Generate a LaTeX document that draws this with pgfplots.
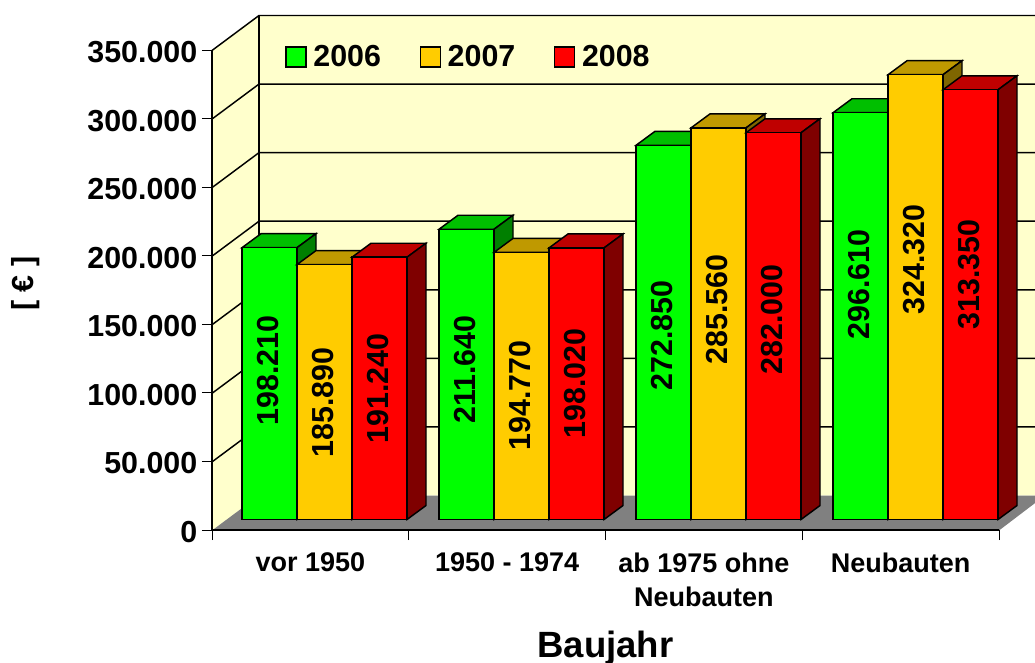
\documentclass[border=0pt]{standalone}
\usepackage{fontspec}
\setmainfont{Liberation Sans}
\usepackage{pgfplots}
\pgfplotsset{compat=1.18}
\definecolor{wall}{HTML}{FFFFCC}
\definecolor{floorgrey}{HTML}{808080}
\definecolor{gfront}{HTML}{00FF00}
\definecolor{gtop}{HTML}{00BF00}
\definecolor{gside}{HTML}{007F00}
\definecolor{yfront}{HTML}{FFCC00}
\definecolor{ytop}{HTML}{BF9900}
\definecolor{yside}{HTML}{7F6600}
\definecolor{rfront}{HTML}{FF0000}
\definecolor{rtop}{HTML}{BF0000}
\definecolor{rside}{HTML}{7F0000}
\newcommand{\bigbf}{\fontsize{22.8}{26}\selectfont\bfseries}
\tikzset{face/.style={draw=black,line width=1.1pt,line join=miter},
  grid line/.style={draw=black,line width=1.1pt},
  barlabel/.style={rotate=90,font=\bigbf,inner sep=0pt}}
% x = left edge in px, value, colour stem, label height, label text
\newcommand{\threedbar}[5]{%
  \edef\tmp{%
    \noexpand\addplot[face,fill=#3top] coordinates {(#1,#2) (\the\numexpr#1+19\relax,\the\numexpr#2+10200\relax) (\the\numexpr#1+74\relax,\the\numexpr#2+10200\relax) (\the\numexpr#1+55\relax,#2)} --cycle;
    \noexpand\addplot[face,fill=#3side] coordinates {(\the\numexpr#1+55\relax,#2) (\the\numexpr#1+74\relax,\the\numexpr#2+10200\relax) (\the\numexpr#1+74\relax,10200) (\the\numexpr#1+55\relax,0)} --cycle;
    \noexpand\addplot[face,fill=#3front] coordinates {(#1,0) (#1,#2) (\the\numexpr#1+55\relax,#2) (\the\numexpr#1+55\relax,0)} --cycle;
    \noexpand\node[barlabel] at (axis cs:\the\numexpr#1+26\relax,#4) {#5};
  }\tmp}
\begin{document}
\begin{tikzpicture}
\clip[use as bounding box] (0,0) rectangle (776.25pt,496.5pt);
% 1 px = 0.75 pt; y = 0 sits at the foot of the bars
\begin{axis}[
    at={(0,0)}, anchor=south west, scale only axis,
    width=776.25pt, height=496.5pt,
    xmin=0, xmax=1035, ymin=-103906, ymax=378807,
    hide axis, clip=true,
    legend columns=3,
    legend cell align=left,
    legend style={draw=none,fill=none,inner sep=0pt,font=\bigbf,
      at={(0.2755,0.936)},anchor=north west,
      /tikz/every even column/.append style={column sep=27pt},
      /tikz/every odd column/.append style={column sep=3pt}},
    legend image code/.code={\draw[#1,line width=1pt] (0pt,-7.5pt) rectangle (15pt,7.5pt);},
]
\addlegendimage{draw=black,fill=gfront}
\addlegendentry{2006}
\addlegendimage{draw=black,fill=yfront}
\addlegendentry{2007}
\addlegendimage{draw=black,fill=rfront}
\addlegendentry{2008}
% walls and floor
\addplot[forget plot,fill=wall,draw=none] coordinates {(212,-8000) (212,342000) (259,367500) (1045,367500) (1045,17500) (259,17500)} --cycle;
\addplot[forget plot,fill=floorgrey,draw=none] coordinates {(212,-8000) (259,17500) (1045,17500) (999,-8000)} --cycle;
% gridlines
\addplot[forget plot,grid line] coordinates {(212,42000) (259,67500) (1045,67500)};
\addplot[forget plot,grid line] coordinates {(212,92000) (259,117500) (1045,117500)};
\addplot[forget plot,grid line] coordinates {(212,142000) (259,167500) (1045,167500)};
\addplot[forget plot,grid line] coordinates {(212,192000) (259,217500) (1045,217500)};
\addplot[forget plot,grid line] coordinates {(212,242000) (259,267500) (1045,267500)};
\addplot[forget plot,grid line] coordinates {(212,292000) (259,317500) (1045,317500)};
\addplot[forget plot,grid line] coordinates {(212,342000) (259,367500) (1045,367500)};
\addplot[forget plot,grid line] coordinates {(259,17500) (259,367500)};
\pgfplotsset{every axis plot/.append style={forget plot}}
% bars
\threedbar{242}{198210}{g}{108646}{198.210}
\threedbar{297}{185890}{y}{85313}{185.890}
\threedbar{352}{191240}{r}{95521}{191.240}
\threedbar{439}{211640}{g}{109375}{211.640}
\threedbar{494}{194770}{y}{90417}{194.770}
\threedbar{549}{198020}{r}{99167}{198.020}
\threedbar{636}{272850}{g}{134167}{272.850}
\threedbar{691}{285560}{y}{153125}{285.560}
\threedbar{746}{282000}{r}{145833}{282.000}
\threedbar{833}{296610}{g}{171354}{296.610}
\threedbar{888}{324320}{y}{189583}{324.320}
\threedbar{943}{313350}{r}{178646}{313.350}
\end{axis}
\begin{axis}[
    at={(159pt,99pt)}, anchor=south west, scale only axis,
    width=590.25pt, height=360pt,
    xmin=0, xmax=4, ymin=0, ymax=350000,
    axis x line*=bottom, axis y line*=left,
    axis line style={black,line width=1.1pt,-},
    tick style={black,line width=0.7pt},
    tick align=outside, major tick length=7.5pt,
    xtick={0,1,2,3,4},
    x tick label as interval,
    xticklabels={vor 1950,1950 - 1974,{ab 1975 ohne\\Neubauten},Neubauten},
    xticklabel style={align=center,font=\fontsize{20.25}{26}\selectfont\bfseries,yshift=-6pt},
    ytick={0,50000,100000,150000,200000,250000,300000,350000},
    scaled y ticks=false,
    /pgf/number format/fixed,
    /pgf/number format/assume math mode=true,
    /pgf/number format/1000 sep={.},
    yticklabel style={font=\bigbf,yshift=-1.5pt},
    xlabel={Baujahr},
    x label style={font=\fontsize{27.4}{30}\selectfont\bfseries,at={(axis description cs:0.5,-0.2646)},anchor=base},
    ylabel={[ € ]},
    y label style={font=\bigbf,at={(axis description cs:-0.237,0.5135)},anchor=center},
]
\addplot[draw=none] coordinates {(0,0) (4,350000)};
\end{axis}
\end{tikzpicture}
\end{document}
